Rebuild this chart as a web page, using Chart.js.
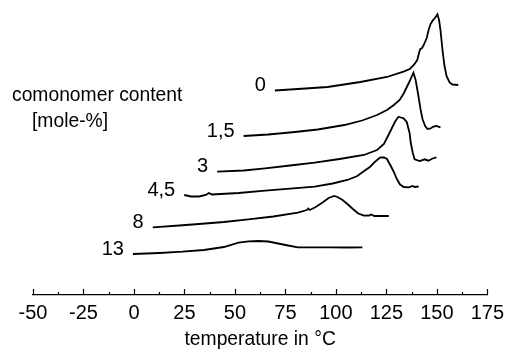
<!DOCTYPE html>
<html>
<head>
<meta charset="utf-8">
<script src="https://cdn.jsdelivr.net/npm/chart.js@4.4.1/dist/chart.umd.min.js"></script>
<style>
  html, body { margin: 0; padding: 0; background: #fff; }
  #wrap { width: 510px; height: 351px; }
</style>
</head>
<body>
<div id="wrap"><canvas id="dsc"></canvas></div>
<script>
// ============================================================================
// DSC melting curves for several comonomer contents (stacked, arb. units)
// ============================================================================

const FONT = '"Liberation Sans", Arial, Helvetica, sans-serif';

const seriesLabels = ['0', '1,5', '3', '4,5', '8', '13'];
const xTicks = [-50, -25, 0, 25, 50, 75, 100, 125, 150, 175];

// temperature in °C / heat flow (offset, arbitrary units)
const temp0 = [69.8, 81.2, 95.9, 112.1, 125.3, 133.5, 136.6, 138.6, 140.3, 141.3, 141.8, 142.5, 143.5, 145, 145.9, 146.9, 147.9, 148.9, 150.3, 151.1, 151.8, 152.8, 153.8, 154.8, 156.3, 157.7, 160.6];
const flow0 = [204.5, 206, 208, 213, 218, 223.3, 226, 230, 235, 243, 246, 246.5, 250, 257, 265, 271, 274.5, 276.5, 280.7, 275, 265, 245, 229, 219, 212.5, 210.5, 210];

const temp1 = [54.3, 66.5, 79.7, 91, 104.2, 113, 120.4, 125.3, 128.7, 131.6, 133.7, 136.1, 138.4, 139.5, 140.8, 142, 142.9, 144.2, 145.4, 146.9, 148.3, 149.8, 151.8];
const flow1 = [159, 160.5, 163, 165.5, 170, 174.5, 180, 185, 190, 195, 202, 212, 222.3, 215, 200, 185, 176, 169, 166, 166.5, 168.5, 169, 167.7];

const temp2 = [41.2, 54.3, 65, 77.3, 89.5, 101.8, 113.9, 120.4, 123.8, 126.8, 129.2, 131, 132.2, 133.5, 135.1, 136.5, 137.1, 138.1, 139, 141.5, 144, 145.8, 147.9, 149.8];
const flow2 = [123.3, 124.5, 126.7, 129.5, 132.3, 136, 140, 145, 151, 163, 173, 178.3, 177.5, 176.7, 173, 162, 152, 142, 135.7, 134, 135.7, 134.3, 136.5, 137.7];

const temp3 = [24.9, 28.3, 32.2, 35.6, 37.1, 38.6, 51.8, 65, 77.3, 89.5, 98.4, 105.7, 110.6, 114, 117, 119.4, 122, 123.8, 125.3, 127.2, 128.7, 130.2, 131.8, 133.6, 136.1, 138, 139, 141];
const flow3 = [100, 98.5, 98.5, 100, 102, 100.5, 102, 104.3, 106.3, 108.3, 111.5, 115, 119, 124, 128.3, 133.3, 137.7, 137.5, 136, 129, 123, 116, 110.5, 108, 107.7, 109, 108, 108.5];

const temp4 = [9.3, 22.4, 32.2, 44.5, 56.7, 69, 81.2, 85.6, 86.3, 87.1, 90, 93.4, 96.4, 99.2, 100.8, 103.3, 105.7, 108.7, 111.1, 113.9, 116.5, 117.5, 119, 126.2];
const flow4 = [67.7, 69.5, 71, 73, 75.7, 78.5, 82.3, 85, 86.5, 85, 88, 92.5, 97, 99, 98, 95, 91, 85.5, 81.5, 79.3, 79.5, 80.5, 79, 79];

const temp5 = [-0.5, 12.6, 24, 34.7, 44.5, 51.8, 56.7, 61.6, 66.5, 71.4, 76.3, 81.2, 97.5, 105.8, 113.1];
const flow5 = [41, 42, 43.3, 45, 48, 52.3, 53.7, 54, 53.5, 51.5, 49.5, 47.7, 47.7, 47.5, 47.7];

const temps = [temp0, temp1, temp2, temp3, temp4, temp5];
const flows = [flow0, flow1, flow2, flow3, flow4, flow5];

// Inward tick marks, curve labels and the caption on the left
const annotationsPlugin = {
  id: 'annotations',
  afterDraw(chart) {
    const { ctx, chartArea } = chart;
    const x = chart.scales.x, y = chart.scales.y;
    const base = chartArea.bottom;
    ctx.save();
    ctx.strokeStyle = '#000';
    ctx.lineWidth = 1.2;
    ctx.beginPath();
    xTicks.forEach((v, i) => {
      const px = Math.round(x.getPixelForValue(v)) + 0.5;
      ctx.moveTo(px, base);
      ctx.lineTo(px, base - 6);
      if (i < xTicks.length - 1) {
        const pm = Math.round(x.getPixelForValue((v + xTicks[i + 1]) / 2)) + 0.5;
        ctx.moveTo(pm, base);
        ctx.lineTo(pm, base - 3);
      }
    });
    ctx.stroke();

    ctx.fillStyle = '#000';
    ctx.font = `20px ${FONT}`;
    ctx.textAlign = 'right';
    ctx.textBaseline = 'middle';
    seriesLabels.forEach((lab, i) => {
      ctx.fillText(lab, x.getPixelForValue(temps[i][0]) - 9, y.getPixelForValue(flows[i][0]) - 5);
    });

    ctx.font = `19.3px ${FONT}`;
    ctx.textAlign = 'left';
    ctx.textBaseline = 'alphabetic';
    ctx.fillText('comonomer content', 12, 101);
    ctx.fillText('[mole-%]', 32, 127);
    ctx.restore();
  },
};

const datasets = seriesLabels.map((lab, i) => ({
  label: lab,
  data: temps[i].map((t, j) => ({ x: t, y: flows[i][j] })),
  showLine: true,
  borderColor: '#000',
  borderWidth: 1.8,
  pointRadius: 0,
  tension: 0,
}));

new Chart(document.getElementById('dsc'), {
  type: 'scatter',
  data: { datasets },
  plugins: [annotationsPlugin],
  options: {
    animation: false,
    responsive: true,
    maintainAspectRatio: false,
    devicePixelRatio: 1,
    layout: { padding: { left: 33, right: 19, top: 0, bottom: 0 } },
    plugins: { legend: { display: false }, tooltip: { enabled: false } },
    scales: {
      x: {
        type: 'linear', min: -50, max: 175,
        afterBuildTicks(scale) { scale.ticks = xTicks.map(v => ({ value: v })); },
        afterFit(scale) { scale.height = 56; },
        grid: { display: false, drawTicks: false },
        border: { display: true, color: '#000', width: 1.2 },
        ticks: { color: '#000', padding: 6, maxRotation: 0, font: { size: 20, family: FONT } },
        title: { display: true, text: 'temperature in °C', color: '#000', padding: { top: 0, bottom: 0 }, font: { size: 19.3, family: FONT } },
      },
      y: { display: false, min: 0, max: 295 },
    },
  },
});
</script>
</body>
</html>
